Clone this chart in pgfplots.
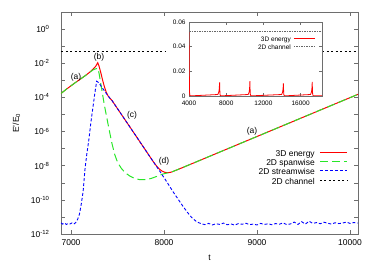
\documentclass[border=0pt]{standalone}
\usepackage{fontspec}
\setmainfont{Liberation Sans}
\usepackage{pgfplots}
\pgfplotsset{compat=1.18}
\usepackage{pgfplotstable}
\definecolor{myred}{RGB}{255,0,0}
\definecolor{mygreen}{RGB}{40,230,40}
\definecolor{myblue}{RGB}{0,0,255}
\definecolor{frame}{RGB}{110,110,110}
\tikzset{
  redline/.style={draw=myred, line width=1pt},
  greenline/.style={draw=mygreen, line width=1pt, dash pattern=on 8bp off 4bp},
  blueline/.style={draw=myblue, line width=0.9pt, dash pattern=on 3bp off 2bp},
  blackline/.style={draw=black, line width=0.8pt, dash pattern=on 2bp off 2.5bp},
  insetred/.style={draw=myred, line width=0.8pt},
  insetgray/.style={draw=black!60, line width=0.4pt, dash pattern=on 1.5bp off 1bp},
}

% log10 of E'/E0
\pgfplotstableread{
t ly
6892 -3.77
6950 -3.52
7000 -3.32
7050 -3.12
7100 -2.93
7150 -2.74
7200 -2.53
7240 -2.33
7265 -2.18
7287 -1.97
7300 -2.15
7320 -2.55
7340 -3.00
7360 -3.40
7380 -3.72
7400 -3.93
7420 -4.06
7440 -4.18
7660 -5.95
7885 -7.77
7920 -8.02
7950 -8.20
7980 -8.32
8010 -8.39
8040 -8.41
8070 -8.39
8100 -8.33
8150 -8.22
8200 -8.11
9000 -6.29
10086 -3.82
}\energy

\pgfplotstableread{
t ly
6892 -3.77
6950 -3.52
7000 -3.32
7050 -3.12
7100 -2.93
7150 -2.74
7200 -2.53
7240 -2.38
7265 -2.33
7290 -2.30
7305 -2.70
7320 -3.20
7340 -3.85
7360 -4.50
7385 -5.20
7410 -5.90
7440 -6.70
7470 -7.35
7500 -7.80
7540 -8.15
7580 -8.40
7630 -8.60
7680 -8.74
7740 -8.82
7800 -8.82
7860 -8.75
7920 -8.63
7980 -8.50
8040 -8.42
8070 -8.39
8100 -8.33
8150 -8.22
8200 -8.11
9000 -6.29
10086 -3.82
}\spanwise

\pgfplotstableread{
t ly
6892 -11.35
6910 -11.42
6930 -11.36
6950 -11.44
6970 -11.38
6990 -11.41
7010 -11.35
7030 -11.42
7050 -11.33
7070 -11.15
7090 -10.85
7110 -10.25
7130 -9.50
7150 -8.20
7170 -7.30
7190 -6.55
7215 -5.40
7240 -4.40
7260 -3.60
7276 -3.05
7300 -3.15
7330 -3.40
7360 -3.62
7390 -3.85
7420 -4.06
7440 -4.18
7660 -5.95
7885 -7.77
7920 -8.05
7960 -8.37
8000 -8.70
8050 -9.12
8100 -9.55
8150 -9.95
8200 -10.35
8250 -10.72
8300 -11.05
8350 -11.28
8400 -11.40
8440 -11.45
8480 -11.38
8520 -11.47
8560 -11.40
8600 -11.44
8640 -11.36
8680 -11.46
8720 -11.41
8760 -11.48
8800 -11.39
8840 -11.43
8880 -11.37
8920 -11.45
8960 -11.42
9000 -11.47
9040 -11.38
9080 -11.44
9120 -11.40
9160 -11.46
9200 -11.39
9240 -11.43
9280 -11.35
9320 -11.45
9360 -11.41
9400 -11.30
9440 -11.44
9480 -11.28
9520 -11.42
9560 -11.25
9600 -11.38
9640 -11.33
9680 -11.40
9720 -11.31
9760 -11.37
9800 -11.42
9840 -11.34
9880 -11.39
9920 -11.36
9960 -11.30
10000 -11.38
10040 -11.33
10086 -11.36
}\streamwise

\pgfplotstableread{
t ly
6892 -1.278
10086 -1.278
}\channel

% inset, linear energy
\pgfplotstableread{
t e
4000 0.0527
4030 0.0200
4060 0.0030
4100 0.0003
4200 0.0001
7100 0.0012
7200 0.0030
7250 0.0056
7290 0.0110
7310 0.0050
7340 0.0010
7400 0.0001
10360 0.0012
10460 0.0030
10510 0.0056
10550 0.0120
10570 0.0050
10600 0.0010
10660 0.0001
13960 0.0012
14060 0.0030
14110 0.0056
14150 0.0103
14170 0.0050
14200 0.0010
14260 0.0001
17060 0.0012
17160 0.0030
17210 0.0056
17250 0.0115
17270 0.0050
17300 0.0010
17360 0.0001
18300 0.0001
}\inset

\pgfplotstableread{
t e
4000 0.0527
18300 0.0527
}\insetchannel

\begin{document}
\begin{tikzpicture}
\path[use as bounding box] (0bp,0bp) rectangle (374bp,262bp);
\begin{axis}[
  at={(61bp,28bp)}, anchor=south west,
  scale only axis, width=297bp, height=222bp,
  xmin=6892, xmax=10086, ymin=-12, ymax=1,
  xtick={7000,8000,9000,10000},
  ytick={-12,-11,...,1},
  yticklabels={10\textsuperscript{-12},,10\textsuperscript{-10},,10\textsuperscript{-8},,10\textsuperscript{-6},,10\textsuperscript{-4},,10\textsuperscript{-2},,10\textsuperscript{0},},
  scaled ticks=false,
  tick align=inside, xtick pos=both, ytick pos=both,
  major tick length=4bp,
  axis line style={frame}, tick style={frame, line width=0.5pt},
  /pgf/number format/1000 sep={},
  /pgf/number format/assume math mode=true,
  tick label style={font=\fontsize{8.5}{10}\selectfont, black},
  yticklabel style={xshift=-8bp},
  xticklabel style={yshift=-2bp},
  xlabel={t}, ylabel={E'/E\textsubscript{0}},
  label style={font=\fontsize{8.5}{10}\selectfont},
  xlabel style={at={(axis description cs:0.5,-0.108)}, anchor=center},
  ylabel style={at={(axis description cs:-0.15,0.5)}, anchor=center},
]
\addplot[redline] table[x=t,y=ly] {\energy};
\addplot[greenline] table[x=t,y=ly] {\spanwise};
\addplot[blueline] table[x=t,y=ly] {\streamwise};
\addplot[blackline] table[x=t,y=ly] {\channel};
\node[font=\fontsize{8.5}{10}\selectfont] at (axis cs:7054,-2.81) {(a)};
\node[font=\fontsize{8.5}{10}\selectfont] at (axis cs:7301,-1.64) {(b)};
\node[font=\fontsize{8.5}{10}\selectfont] at (axis cs:7656,-5.04) {(c)};
\node[font=\fontsize{8.5}{10}\selectfont] at (axis cs:8000,-7.73) {(d)};
\node[font=\fontsize{8.5}{10}\selectfont] at (axis cs:8946,-5.97) {(a)};
% legend
\begin{scope}[every node/.style={font=\fontsize{8.5}{10}\selectfont, anchor=mid east, inner sep=0pt}]
\node at (axis description cs:0.855,0.360) {3D energy};
\node at (axis description cs:0.855,0.319) {2D spanwise};
\node at (axis description cs:0.855,0.278) {2D streamwise};
\node at (axis description cs:0.855,0.236) {2D channel};
\end{scope}
\draw[redline] (axis description cs:0.872,0.367) -- (axis description cs:0.963,0.367);
\draw[greenline] (axis description cs:0.872,0.326) -- (axis description cs:0.963,0.326);
\draw[blueline] (axis description cs:0.872,0.285) -- (axis description cs:0.963,0.285);
\draw[blackline] (axis description cs:0.872,0.243) -- (axis description cs:0.963,0.243);
\end{axis}
\fill[white] (166bp,156bp) rectangle (323bp,246bp);
\begin{axis}[
  at={(189bp,166bp)}, anchor=south west,
  scale only axis, width=133bp, height=74bp,
  xmin=4000, xmax=18300, ymin=0, ymax=0.06,
  xtick={4000,8000,12000,16000},
  ytick={0,0.02,0.04,0.06},
  scaled ticks=false,
  tick align=inside, xtick pos=both, ytick pos=both,
  major tick length=3bp,
  axis line style={frame}, tick style={frame, line width=0.5pt},
  /pgf/number format/1000 sep={},
  /pgf/number format/assume math mode=true,
  yticklabel style={/pgf/number format/fixed, /pgf/number format/precision=2},
  tick label style={font=\fontsize{6.5}{8}\selectfont, black},
  xticklabel style={yshift=-1.5bp},
]
\addplot[insetred] table[x=t,y=e] {\inset};
\addplot[insetgray] table[x=t,y=e] {\insetchannel};
\begin{scope}[every node/.style={font=\fontsize{6.5}{8}\selectfont, anchor=mid east, inner sep=0pt}]
\node at (axis description cs:0.767,0.766) {3D energy};
\node at (axis description cs:0.767,0.658) {2D channel};
\end{scope}
\draw[insetred] (axis description cs:0.789,0.775) -- (axis description cs:0.947,0.775);
\draw[insetgray] (axis description cs:0.789,0.667) -- (axis description cs:0.947,0.667);
\end{axis}
\end{tikzpicture}
\end{document}
